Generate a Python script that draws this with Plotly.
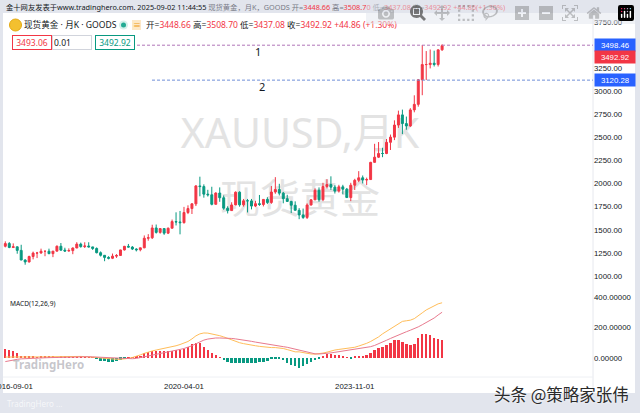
import plotly.graph_objects as go
import pandas as pd

# ---------------- data ----------------
months = pd.date_range('2016-07-01', periods=111, freq='MS').strftime('%Y-%m-%d').tolist()

opens = [1322, 1351, 1309, 1316, 1277, 1173, 1152, 1211, 1248, 1249, 1268, 1268, 1242, 1269, 1322, 1280,
         1271, 1275, 1303, 1345, 1318, 1325, 1315, 1298, 1252, 1224, 1201, 1192, 1215, 1222, 1282, 1321,
         1313, 1292, 1284, 1305, 1409, 1414, 1520, 1472, 1513, 1464, 1517, 1589, 1585, 1577, 1687, 1730,
         1781, 1975, 1968, 1886, 1879, 1776, 1898, 1847, 1734, 1708, 1769, 1907, 1770, 1814, 1813, 1757,
         1783, 1774, 1829, 1796, 1909, 1937, 1897, 1837, 1807, 1766, 1711, 1661, 1634, 1768, 1824, 1928,
         1826, 1969, 1990, 1962, 1919, 1965, 1940, 1849, 1983, 2036, 2063, 2039, 2044, 2230, 2286, 2327,
         2326, 2447, 2503, 2634, 2744, 2650, 2624, 2798, 2858, 3124, 3289, 3289, 3303, 3290, 3448.66]
highs = [1375, 1367, 1353, 1318, 1338, 1181, 1220, 1264, 1261, 1296, 1270, 1296, 1270, 1331, 1357, 1306,
         1299, 1309, 1366, 1361, 1365, 1365, 1316, 1309, 1266, 1225, 1214, 1243, 1237, 1284, 1326, 1347,
         1324, 1300, 1306, 1439, 1453, 1555, 1557, 1518, 1516, 1525, 1611, 1689, 1704, 1748, 1765, 1789,
         1984, 2075, 1992, 1933, 1966, 1906, 1959, 1872, 1755, 1798, 1916, 1917, 1834, 1834, 1834, 1814,
         1877, 1831, 1853, 1974, 2070, 1998, 1910, 1879, 1814, 1808, 1735, 1730, 1786, 1833, 1949, 1959,
         2009, 2048, 2079, 1983, 1987, 1987, 1953, 2009, 2052, 2135, 2088, 2065, 2236, 2431, 2450, 2388,
         2483, 2531, 2685, 2790, 2801, 2726, 2817, 2956, 3128, 3500, 3435, 3452, 3439, 3453, 3508.70]
lows = [1310, 1301, 1302, 1241, 1171, 1122, 1146, 1180, 1194, 1241, 1214, 1236, 1204, 1267, 1275, 1260,
        1264, 1236, 1302, 1307, 1303, 1310, 1282, 1245, 1211, 1160, 1180, 1183, 1196, 1221, 1276, 1310,
        1281, 1266, 1267, 1301, 1382, 1400, 1459, 1458, 1445, 1454, 1517, 1547, 1451, 1568, 1670, 1671,
        1757, 1863, 1848, 1860, 1765, 1775, 1803, 1717, 1677, 1705, 1766, 1750, 1751, 1688, 1721, 1746,
        1759, 1753, 1780, 1781, 1890, 1872, 1787, 1805, 1681, 1709, 1615, 1618, 1617, 1765, 1823, 1804,
        1810, 1949, 1932, 1893, 1903, 1884, 1847, 1810, 1931, 2016, 2002, 1984, 2039, 2229, 2277, 2286,
        2319, 2364, 2471, 2603, 2536, 2583, 2614, 2772, 2833, 2957, 3121, 3247, 3268, 3268, 3437.08]
closes = [1351, 1309, 1316, 1277, 1173, 1152, 1211, 1248, 1249, 1268, 1268, 1242, 1269, 1322, 1280, 1271,
          1275, 1303, 1345, 1318, 1325, 1315, 1298, 1252, 1224, 1201, 1192, 1215, 1222, 1282, 1321, 1313,
          1292, 1284, 1305, 1409, 1414, 1520, 1472, 1513, 1464, 1517, 1589, 1585, 1577, 1687, 1730, 1781,
          1975, 1968, 1886, 1879, 1776, 1898, 1847, 1734, 1708, 1769, 1907, 1770, 1814, 1813, 1757, 1783,
          1774, 1829, 1796, 1909, 1937, 1897, 1837, 1807, 1766, 1711, 1661, 1634, 1768, 1824, 1928, 1826,
          1969, 1990, 1962, 1919, 1965, 1940, 1849, 1983, 2036, 2063, 2039, 2044, 2230, 2286, 2327, 2326,
          2447, 2503, 2634, 2744, 2650, 2624, 2798, 2858, 3124, 3289, 3289, 3303, 3290, 3448, 3492.92]

macd_hist = [60, 55, 45, 30, 15, 8, 10, 8, 6, 10, 12, 10, 8, 6, 10, 12, 14, 12, 10, 8, 6, 3, 2,
             -10, -18, -22, -25, -25, -20, -12, -5, 2, 5, 10,
             15, 30, 40, 45, 48, 45, 44, 46, 48, 50, 55, 60, 70, 90, 100, 95, 75, 55, 35, 20, 5,
             -15, -25, -30, -32, -33, -33, -32, -30, -30, -28, -25, -20, -5, -3, -10, -15,
             -30, -45, -55, -65, -55, -40, -28, -15, -5,
             10, 25, 25, 22, 20, 15, 2, -2, 12, 15, 15, 20,
             35, 50, 65, 75, 85, 100, 115, 118, 105, 90, 88, 92, 130, 155, 158, 150, 128, 125, 118]
macd_dif = [6, 6, 6, 5, 4, 3, 3, 3, 4, 5, 6, 7, 8, 9, 10, 10, 11, 11, 11, 10, 9, 8, 6,
            3, 0, -3, -6, -8, -9, -9, -7, -3, 3, 10,
            20, 30, 40, 46, 52, 57, 62, 68, 74, 80, 88, 96, 108, 125, 145, 158, 164, 163, 158, 152, 146,
            138, 128, 118, 108, 100, 94, 88, 84, 80, 76, 72, 70, 68, 68, 66, 62, 55, 48, 40,
            40, 34, 29, 26, 25, 27, 32, 38, 46, 52, 56, 60, 62, 64, 70, 78, 86, 96,
            108, 122, 138, 158, 175, 192, 210, 228, 240, 244, 248, 258, 275, 296, 315, 330, 342, 355, 362]
macd_dea = [-24, -18, -13, -9, -6, -4, -3, -2, -1, 0, 1, 2, 3, 4, 5, 6, 7, 7, 8, 8, 8, 8, 7,
            6, 5, 3, 1, -1, -3, -5, -6, -6, -5, -3,
            2, 8, 14, 20, 26, 31, 36, 41, 46, 51, 56, 62, 70, 80, 93, 106, 117, 124, 129, 131, 131,
            131, 130, 128, 125, 122, 118, 114, 109, 104, 99, 95, 91, 87, 83, 78, 74, 70, 64, 58,
            50, 42, 35, 30, 27, 26, 27, 29, 33, 37, 41, 45, 50, 54, 58, 62, 65, 68,
            74, 82, 92, 104, 116, 128, 140, 151, 162, 172, 182, 192, 204, 218, 232, 246, 262, 282, 300]

price_ticks = [1000, 1250, 1500, 1750, 2000, 2250, 2500, 2750, 3000, 3250, 3750]
macd_ticks = [0, 200, 400]
date_ticks = ['2016-09-01', '2020-04-01', '2023-11-01']
levels = [3498.46, 3120.28]
level_names = ['1', '2']
last_close = 3492.92

# ---------------- style ----------------
W, H = 640, 413
UP, DN = '#f23645', '#089981'
BG = '#e2e5ed'
FONT = 'Noto Sans, Noto Sans CJK SC, sans-serif'
AXF = 'Liberation Sans, Noto Sans, sans-serif'


def px(v):
    return v / W


def py(v):
    return 1 - v / H


xs = list(range(len(months)))
fig = go.Figure()

fig.add_trace(go.Candlestick(
    x=xs, open=opens, high=highs, low=lows, close=closes,
    increasing=dict(line=dict(color=UP, width=1), fillcolor=UP),
    decreasing=dict(line=dict(color=DN, width=1), fillcolor=DN),
    whiskerwidth=0, hoverinfo='skip', xaxis='x', yaxis='y', showlegend=False))

fig.add_trace(go.Bar(
    x=xs, y=macd_hist, width=0.6,
    marker=dict(color=[UP if v >= 0 else DN for v in macd_hist], line=dict(width=0)),
    xaxis='x2', yaxis='y2', showlegend=False, hoverinfo='skip'))
fig.add_trace(go.Scatter(x=xs, y=macd_dif, mode='lines', line=dict(color='#ffbd59', width=1),
                         xaxis='x2', yaxis='y2', showlegend=False, hoverinfo='skip'))
fig.add_trace(go.Scatter(x=xs, y=macd_dea, mode='lines', line=dict(color='#e87a8e', width=1),
                         xaxis='x2', yaxis='y2', showlegend=False, hoverinfo='skip'))

xdom = [px(3), px(593)]
xr = [-0.58, 148]
tick_idx = [months.index(d) for d in date_ticks]
tf = dict(size=7.8, color='#131722', family=AXF)

fig.update_layout(
    width=W, height=H, margin=dict(l=0, r=0, t=0, b=0),
    paper_bgcolor=BG, plot_bgcolor='rgba(0,0,0,0)',
    font=dict(family=FONT, color='#131722', size=9),
    showlegend=False, bargap=0,
    xaxis=dict(domain=xdom, range=xr, anchor='y', showticklabels=False, showgrid=False,
               zeroline=False, rangeslider=dict(visible=False), fixedrange=True),
    yaxis=dict(domain=[py(288), py(13)], range=[870, 3847], side='right', anchor='x',
               tickvals=price_ticks, ticktext=[f'{v:.2f}' for v in price_ticks],
               showgrid=False, zeroline=False, ticks='', tickfont=tf),
    xaxis2=dict(domain=xdom, range=xr, anchor='y2', showgrid=False, zeroline=False,
                tickvals=tick_idx[1:], ticktext=date_ticks[1:], ticks='', tickfont=tf,
                ticklabelstandoff=3),
    yaxis2=dict(domain=[py(377), py(288)], range=[-125, 459], side='right', anchor='x2',
                tickvals=macd_ticks, ticktext=[f'{v:.5f}' for v in macd_ticks],
                showgrid=False, zeroline=False, ticks='', tickfont=tf),
)

shapes = [
    dict(type='rect', xref='paper', yref='paper', x0=px(3), x1=px(635), y0=py(393), y1=py(13),
         fillcolor='white', line=dict(width=0), layer='below'),
    dict(type='rect', xref='paper', yref='paper', x0=px(150), x1=px(450), y0=py(160), y1=py(110),
         fillcolor='rgba(0,0,0,0)', line=dict(width=0), layer='below',
         label=dict(text='XAUUSD,月K', font=dict(size=41, color='#e3e3e3', family=FONT),
                    textposition='middle center')),
    dict(type='rect', xref='paper', yref='paper', x0=px(150), x1=px(450), y0=py(225), y1=py(175),
         fillcolor='rgba(0,0,0,0)', line=dict(width=0), layer='below',
         label=dict(text='现货黄金', font=dict(size=40, color='#e3e3e3', family=FONT),
                    textposition='middle center')),
    # axis separators
    dict(type='line', xref='paper', yref='paper', x0=px(593), x1=px(593), y0=py(393), y1=py(13),
         line=dict(color='#e6e8ee', width=1)),
    dict(type='line', xref='paper', yref='paper', x0=px(3), x1=px(593), y0=py(377), y1=py(377),
         line=dict(color='#eef0f4', width=1)),
    # level lines
    dict(type='line', xref='paper', yref='y', x0=px(137), x1=px(593), y0=levels[0], y1=levels[0],
         line=dict(color='#b074b8', width=1, dash='3px,2px')),
    dict(type='line', xref='paper', yref='y', x0=px(152), x1=px(593), y0=levels[1], y1=levels[1],
         line=dict(color='#6f8fd8', width=1, dash='3px,2px')),
    # legend icons
    dict(type='circle', xref='paper', yref='paper', x0=px(9.5), x1=px(21.5), y0=py(31), y1=py(19),
         fillcolor='#f3c02f', line=dict(color='#e3a90f', width=1)),
    dict(type='circle', xref='paper', yref='paper', x0=px(119), x1=px(128), y0=py(29.5), y1=py(20.5),
         fillcolor='#d3f0ea', line=dict(width=0)),
    dict(type='circle', xref='paper', yref='paper', x0=px(121), x1=px(126), y0=py(27.5), y1=py(22.5),
         fillcolor='#22ab94', line=dict(width=0)),
    dict(type='rect', xref='paper', yref='paper', x0=px(132), x1=px(141), y0=py(30), y1=py(20),
         fillcolor='#fde8c6', line=dict(width=0)),
]
fig.update_layout(shapes=shapes)

R = UP
G = '#787b86'
ann = []
# first date label sits at the left edge (cut by the window, as in the reference)
ann.append(dict(xref='x2', yref='paper', x=tick_idx[0], y=py(386), xanchor='center', yanchor='middle',
                text=date_ticks[0], showarrow=False, font=tf))
# top header
hdr = (f'<span style="color:#131722">金十网友发表于www.tradinghero.com. 2025-09-02 11:44:55 </span>'
       f'<span style="color:{G}">现货黄金，月K，GOODS 开=</span><span style="color:{R}">{opens[-1]:.2f}</span>'
       f'<span style="color:{G}"> 高=</span><span style="color:{R}">{highs[-1]:.2f}</span>'
       f'<span style="color:{G}"> 低=</span><span style="color:{R}">{lows[-1]:.2f}</span>'
       f'<span style="color:{G}"> 收=</span><span style="color:{R}">{closes[-1]:.2f}</span>'
       f'<span style="color:{R}"> +44.86(+1.30%)</span>')
ann.append(dict(xref='paper', yref='paper', x=px(4), y=py(7), xanchor='left', yanchor='middle',
                text=hdr, showarrow=False, font=dict(size=7.3, family=FONT)))
# legend row 1
ann.append(dict(xref='paper', yref='paper', x=px(22), y=py(25), xanchor='left', yanchor='middle',
                text='现货黄金 · 月K · GOODS', showarrow=False, font=dict(size=8.6, color='#131722')))
ann.append(dict(xref='paper', yref='paper', x=px(136.5), y=py(25), xanchor='center', yanchor='middle',
                text='≡', showarrow=False, font=dict(size=8, color='#f0a020')))
ohlc = (f'开=<span style="color:{R}">{opens[-1]:.2f}</span> 高=<span style="color:{R}">{highs[-1]:.2f}</span> '
        f'低=<span style="color:{R}">{lows[-1]:.2f}</span> 收=<span style="color:{R}">{closes[-1]:.2f}</span> '
        f'<span style="color:{R}">+44.86 (+1.30%)</span>')
ann.append(dict(xref='paper', yref='paper', x=px(144), y=py(25), xanchor='left', yanchor='middle',
                text=ohlc, showarrow=False, font=dict(size=8.5, color='#131722')))
# legend row 2 boxes
for x0, txt, col, border in [(12, '3493.06', R, R), (52, '0.01 ', '#131722', '#d1d4dc'),
                             (95, f'{last_close:.2f}', DN, DN)]:
    ann.append(dict(xref='paper', yref='paper', x=px(x0), y=py(43), xanchor='left', yanchor='middle',
                    text=txt, showarrow=False, width=36, height=11,
                    align='left' if txt.startswith('0.01') else 'center',
                    bgcolor='white', bordercolor=border, borderwidth=1, borderpad=1,
                    font=dict(size=8.5, color=col)))
# level labels on chart
for lv, nm, xp in zip(levels, level_names, [258, 262]):
    ann.append(dict(xref='paper', yref='y', x=px(xp), y=lv, yshift=-6, text=nm, showarrow=False,
                    font=dict(size=11, color='#131722')))
# price axis labels
for yv, col, shift in [(levels[0], '#2962ff', 0), (last_close, UP, -11.5), (levels[1], '#2962ff', 0)]:
    ann.append(dict(xref='paper', yref='y', x=px(594), y=yv, yshift=shift, xanchor='left', yanchor='middle',
                    text=f'{yv:.2f}', showarrow=False, width=38, height=10, bgcolor=col,
                    borderpad=1, font=dict(size=7.8, color='white', family=AXF)))
# MACD label
ann.append(dict(xref='paper', yref='paper', x=px(8), y=py(303), xanchor='left', yanchor='middle',
                text='MACD(12,26,9)', showarrow=False, font=dict(size=6.6, color='#131722')))
# TradingHero logo
ann.append(dict(xref='paper', yref='paper', x=px(11), y=py(364), xanchor='left', yanchor='middle',
                text='<b>TradingHero</b>', showarrow=False,
                font=dict(size=11.5, color='rgba(150,150,160,0.55)')))
ann.append(dict(xref='paper', yref='paper', x=px(5), y=py(403), xanchor='left', yanchor='middle',
                text='TradingHero ...', showarrow=False, font=dict(size=8, color='rgba(255,255,255,0.7)')))
# bottom watermark
ann.append(dict(xref='paper', yref='paper', x=px(561), y=py(394), xanchor='center', yanchor='middle',
                text='头条 @策略家张伟', showarrow=False,
                font=dict(size=16.5, color='#2a2a2a', family='Noto Sans CJK SC',
                          shadow='0px 0px 3px #ffffff')))
fig.update_layout(annotations=ann)

fig.write_html('out.html',
               post_script="document.body.style.margin='0';document.body.style.padding='0';"
                           "document.body.style.overflow='hidden';")
